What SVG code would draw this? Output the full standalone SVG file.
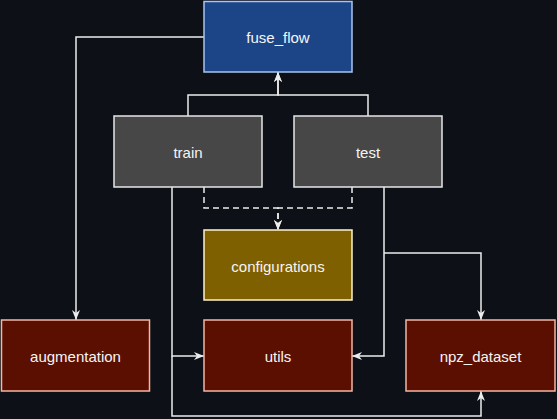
<svg xmlns="http://www.w3.org/2000/svg" width="557" height="419" viewBox="0 0 557 419">
<style>
.bg{fill:#0d1117}
.n rect{stroke-width:1.5}
.n text{font-family:"Liberation Sans",Arial,sans-serif;font-size:15px;fill:#f5f5f5;text-anchor:middle;dominant-baseline:central}
.blue rect{fill:#1c4587;stroke:#a9c4f0}
.gray rect{fill:#474747;stroke:#e6e6e6}
.gold rect{fill:#7f6000;stroke:#fff2cc}
.red rect{fill:#5b0f00;stroke:#f4b6a6}
.c path{fill:none;stroke:#ececec;stroke-width:1.5}
.c path.d{stroke-dasharray:6 4}
</style>
<defs>
<marker id="ah" markerUnits="userSpaceOnUse" viewBox="0 0 10 10" refX="10" refY="5" markerWidth="10" markerHeight="10" orient="auto">
<path d="M0,1 L10,5 L0,9 L3,5 Z" fill="#ececec"/>
</marker>
</defs>
<rect class="bg" x="0" y="0" width="557" height="419"/>
<g id="connectors" class="c">
<path d="M204,37 H76 V320" marker-end="url(#ah)"/>
<path d="M188,116 V95 H278 V72" marker-end="url(#ah)"/>
<path d="M368,116 V95 H278 V72" marker-end="url(#ah)"/>
<path class="d" d="M204,187 V208 H278 V230" marker-end="url(#ah)"/>
<path class="d" d="M352,187 V208 H278 V230" marker-end="url(#ah)"/>
<path d="M172,187 V356 H204" marker-end="url(#ah)"/>
<path d="M172,356 V416 H481 V391" marker-end="url(#ah)"/>
<path d="M384,187 V356 H352" marker-end="url(#ah)"/>
<path d="M384,253 H481 V320" marker-end="url(#ah)"/>
</g>
<g id="fuse_flow" class="n blue"><rect x="204" y="1.5" width="148" height="70.5"/><text x="278" y="37">fuse_flow</text></g>
<g id="train" class="n gray"><rect x="114" y="116" width="148" height="71"/><text x="188" y="152">train</text></g>
<g id="test" class="n gray"><rect x="294" y="116" width="148" height="71"/><text x="368" y="152">test</text></g>
<g id="configurations" class="n gold"><rect x="204" y="230" width="148" height="70"/><text x="278" y="266">configurations</text></g>
<g id="augmentation" class="n red"><rect x="1.5" y="320" width="148" height="71"/><text x="75.5" y="356">augmentation</text></g>
<g id="utils" class="n red"><rect x="204" y="320" width="148" height="71"/><text x="278" y="356">utils</text></g>
<g id="npz_dataset" class="n red"><rect x="406" y="320" width="149" height="71"/><text x="480.5" y="356">npz_dataset</text></g>
</svg>
